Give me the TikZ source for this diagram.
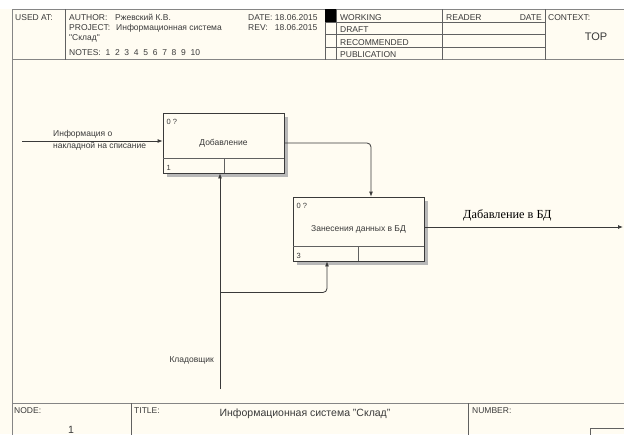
\documentclass[tikz,border=0pt]{standalone}
\usepackage{fontspec}
\setmainfont{Liberation Sans}
\newfontfamily\hdrfont{Liberation Sans}
\newfontfamily\serfont{Liberation Serif}
\usetikzlibrary{arrows.meta,calc,shadows}
\definecolor{paper}{HTML}{FFFCF2}
\definecolor{ink}{HTML}{3A3A3A}
\definecolor{framec}{HTML}{858585}
\tikzset{
  hdr/.style={font=\hdrfont\fontsize{8.5}{9}\selectfont, text=ink, inner sep=0pt, anchor=base west},
  lbl/.style={font=\fontsize{8.5}{10}\selectfont, text=ink, inner sep=0pt},
  tinylbl/.style={font=\fontsize{7.5}{8}\selectfont, text=ink, inner sep=0pt, anchor=base west},
  proc/.style={draw=ink, fill=paper, line width=0.8pt, font=\fontsize{8.5}{10}\selectfont, text=ink,
    drop shadow={shadow xshift=4pt, shadow yshift=-4pt, fill=black!28, opacity=1}},
  frameline/.style={draw=framec, line width=0.9pt},
  cellline/.style={draw=ink!80, line width=0.6pt},
  arr/.style={draw=ink, line width=0.8pt, -{Latex[length=5pt,width=4pt]}, rounded corners=4pt},
  plain/.style={draw=ink, line width=0.8pt, rounded corners=4pt}
}
\begin{document}
\begin{tikzpicture}[x=1pt,y=-1pt]
\useasboundingbox (0,0) rectangle (624,434);
\fill[paper] (0,0) rectangle (624,434);
\fill[white] (0,0) rectangle (624,8.5);

% ---------- header frame ----------
\draw[frameline] (12,9) -- (624.5,9);
\draw[frameline] (12,9) -- (12,434.5);
\draw[frameline] (12,59.5) -- (624.5,59.5);
\draw[cellline] (65,9) -- (65,59.5);
\draw[cellline] (325,9) -- (325,59.5);
\draw[cellline] (336,9) -- (336,59.5);
\draw[cellline] (442,9) -- (442,59.5);
\draw[cellline] (545,9) -- (545,59.5);
\foreach \yy in {22,34.5,47}{\draw[cellline] (325,\yy) -- (545,\yy);}
\fill[black] (325,9) rectangle (336,22);

\node[hdr] (usedat) at (15,20.5) {USED AT:};
\node[hdr] (author) at (69,20.5) {AUTHOR:};
\node[hdr] (authorv) at (115,20.5) {Ржевский К.В.};
\node[hdr] (project) at (69,30.5) {PROJECT:};
\node[hdr] (projectv) at (116,30.5) {Информационная система};
\node[hdr] (sklad) at (69,40) {"Склад"};
\node[hdr] (notes) at (69,55) {NOTES:\ \ 1\ \ 2\ \ 3\ \ 4\ \ 5\ \ 6\ \ 7\ \ 8\ \ 9\ \ 10};
\node[hdr] (date) at (248,20.5) {DATE:\ 18.06.2015};
\node[hdr] (rev) at (248,30.5) {REV:\ \ \ 18.06.2015};
\node[hdr] (working) at (340,20.5) {WORKING};
\node[hdr] (draft) at (340,32.5) {DRAFT};
\node[hdr] (recom) at (340,45) {RECOMMENDED};
\node[hdr] (publ) at (340,57.5) {PUBLICATION};
\node[hdr] (reader) at (446,20.5) {READER};
\node[hdr, anchor=base east] (rdate) at (542,20.5) {DATE};
\node[hdr] (context) at (548,20.5) {CONTEXT:};
\node[font=\fontsize{11}{12}\selectfont, text=ink, inner sep=0pt, anchor=base] (top) at (596,40) {TOP};

% ---------- footer frame ----------
\draw[frameline] (12,403) -- (624.5,403);
\draw[cellline] (131,403) -- (131,434.5);
\draw[cellline] (468,403) -- (468,434.5);
\draw[cellline] (590,434.5) |- (624.5,428);
\node[hdr] (nodel) at (14,413) {NODE:};
\node[font=\fontsize{10.5}{12}\selectfont, text=ink, inner sep=0pt, anchor=base] (nodenum) at (71,433) {1};
\node[hdr] (titlel) at (134,413) {TITLE:};
\node[font=\fontsize{10.5}{12}\selectfont, text=ink, inner sep=0pt, anchor=base] (title) at (305,416) {Информационная система "Склад"};
\node[hdr] (numberl) at (472,413) {NUMBER:};

% ---------- activities ----------
\node[proc, minimum width=121pt, minimum height=60pt] (b1) at (223.5,143) {Добавление};
\node[proc, minimum width=131pt, minimum height=64pt] (b2) at (358.5,229) {Занесения данных в БД};

\draw[cellline] (163,158) -- (284,158);
\draw[cellline] (224,158) -- (224,173);
\draw[cellline] (293,246) -- (424,246);
\draw[cellline] (358,246) -- (358,261);
\node[tinylbl] (b1id) at (166.5,124) {0 ?};
\node[tinylbl] (b1no) at (166.5,170.5) {1};
\node[tinylbl] (b2id) at (296.5,208) {0 ?};
\node[tinylbl] (b2no) at (296.5,258.5) {3};

% ---------- arrows ----------
\coordinate (inp) at (22,141);
\coordinate (outp) at (623,227);
\coordinate (mech) at (220,389);
\coordinate (mjoin) at (220,292.5);

\draw[arr] (inp) -- (inp -| b1.west);
\draw[arr] (b1.east) -| ([xshift=12.5pt]b2.north);
\draw[arr] (outp -| b2.east) -- (outp);
\draw[arr] (mech) -- (mech |- b1.south);
\draw[arr] (mjoin) -| ([xshift=-31.5pt]b2.south);

% ---------- labels ----------
\node[lbl, anchor=base west, align=left] (inlab) at (53,136.5) {Информация о};
\node[lbl, anchor=base west] (inlab2) at (53,148) {накладной на списание};
\node[font=\serfont\fontsize{12.3}{13}\selectfont, text=black, inner sep=0pt, anchor=base west] (outlab) at (463,218) {Дабавление в БД};
\node[lbl, anchor=base east] (mechlab) at (214,362) {Кладовщик};
\end{tikzpicture}
\end{document}
